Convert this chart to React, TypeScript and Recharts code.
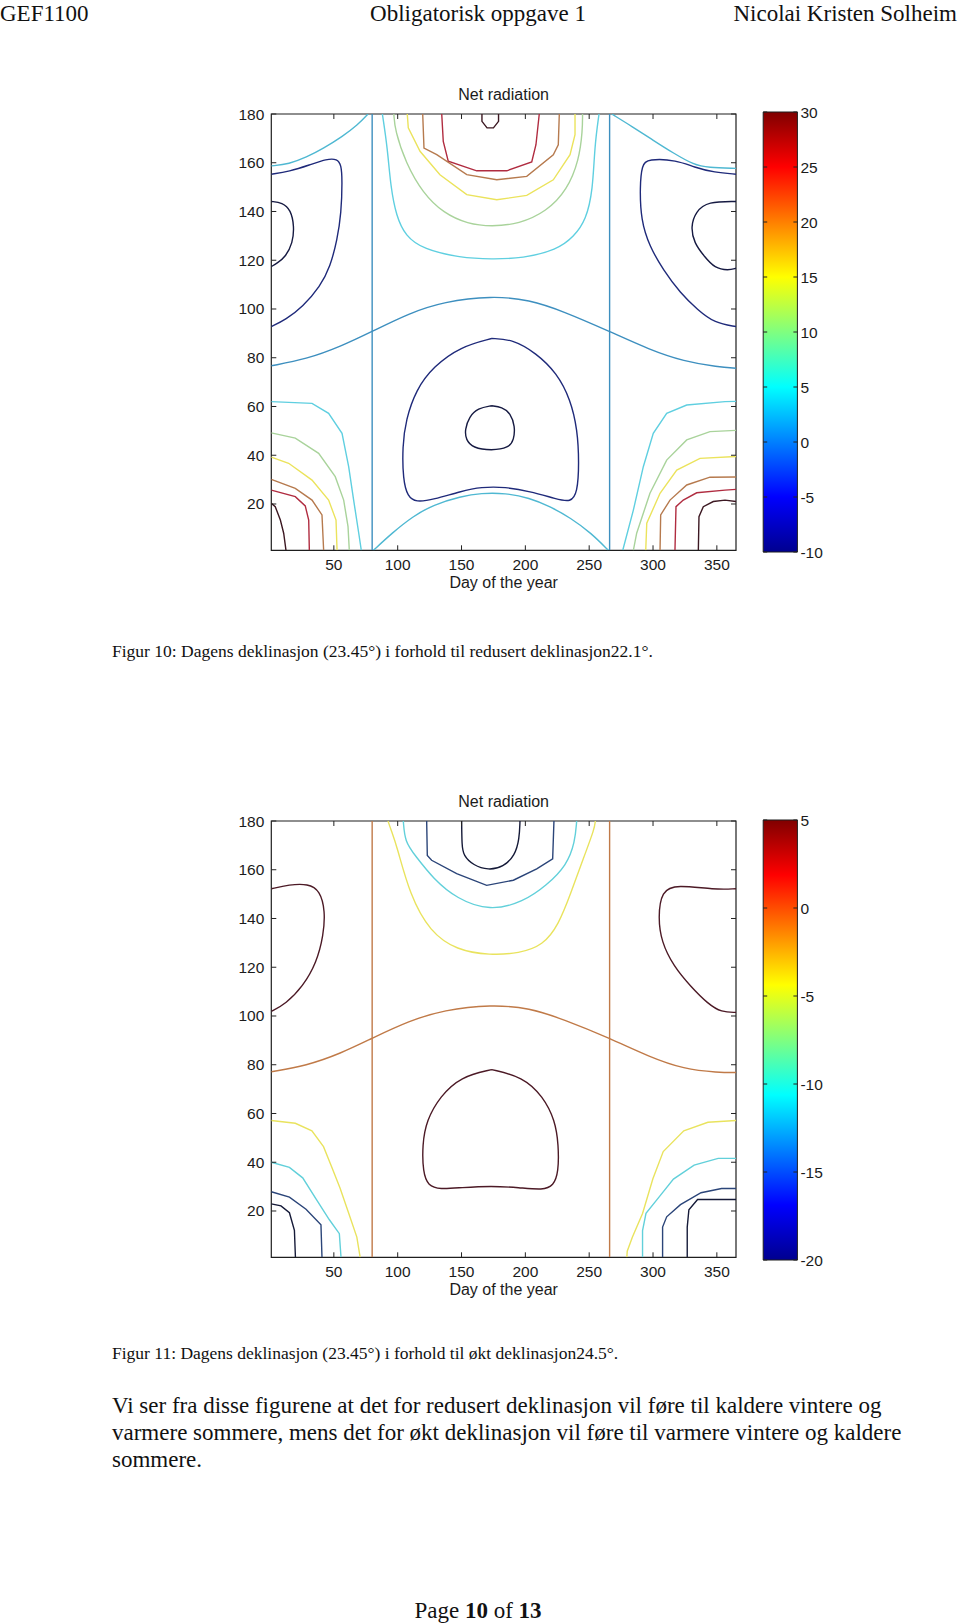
import { LineChart, Line, XAxis, YAxis, ReferenceArea, ComposedChart } from 'recharts';

type Pt = [number, number];
type Series = { level: string; pts: Pt[]; curve?: 'linear' | 'basis' };

// axes
const dayTicks = [50, 100, 150, 200, 250, 300, 350];
const latTicks = [20, 40, 60, 80, 100, 120, 140, 160, 180];
const bar1Ticks = [-10, -5, 0, 5, 10, 15, 20, 25, 30];
const bar2Ticks = [-20, -15, -10, -5, 0, 5];

// ---- Figur 10 (redusert deklinasjon), contours: [day, lat]
const f10EqA: Pt[] = [[80, 1], [80, 180]];
const f10EqB: Pt[] = [[266, 1], [266, 180]];
const f10Wave: Pt[] = [[1, 76.7], [28.4, 79.4], [55.3, 84.6], [80, 90.8], [109, 98.3], [136, 103], [173.6, 105.4], [203.2, 103.8], [230, 99], [266, 90.8], [297.2, 83.3], [324.1, 78.5], [351, 76.2], [365, 75.7]];
const f10RimTL: Pt[] = [[1, 158.7], [15, 159.5], [28.4, 162.2], [41.9, 165.9], [56.6, 170.7], [68.7, 175.5], [76.8, 180]];
const f10RimTR: Pt[] = [[267.7, 180], [283.8, 174.8], [299.9, 169.3], [316.1, 163.9], [332.2, 159.1], [343, 158], [365, 157.7]];
const f10RimB: Pt[] = [[81, 1], [95.6, 8.1], [111.8, 14.9], [127.9, 19.7], [149.4, 23.1], [165.5, 24.5], [184.3, 24.5], [203.2, 22.5], [219.3, 19], [235.4, 14.3], [251.5, 8.1], [265, 1]];

const f10Top30: Pt[] = [[166, 180], [166, 177], [170, 174.3], [175, 174.3], [179, 177], [179, 180]];
const f10Top25: Pt[] = [[134.5, 180], [135.7, 168.8], [139.6, 160.6], [161.9, 156.7], [185.4, 156.7], [205, 160.3], [208.3, 167.4], [210.9, 180]];
const f10Top20: Pt[] = [[119.6, 180], [120.6, 166], [130.6, 163.3], [154.1, 155.1], [177.6, 153], [201.1, 154.4], [221.9, 163.3], [225.8, 167.4], [226.6, 180]];
const f10Top15: Pt[] = [[107.5, 180], [108.3, 174.3], [117.5, 164.7], [133.1, 155.1], [154.1, 146.9], [177.6, 144.8], [201.1, 146.6], [221.9, 153], [235, 163.3], [238.9, 171.5], [238.9, 180]];
const f10Top10: Pt[] = [[97, 180], [97.8, 173.4], [106.4, 159.8], [119.8, 147.5], [136, 139.3], [154.8, 134.9], [173.6, 133.8], [195.1, 134.9], [216.6, 140], [232.7, 148.8], [242.1, 161.1], [244.8, 173.4], [244.8, 180]];
const f10Top5: Pt[] = [[88, 180], [92, 166], [94.5, 150], [99, 138], [106, 130], [120, 124.5], [149, 121], [173.6, 120.4], [197.8, 120.8], [224.7, 124.2], [238.1, 129.7], [247.5, 136.5], [252.9, 148.8], [254.2, 166.6], [257.7, 180]];

const f10Bl30: Pt[] = [[1, 20.3], [4.1, 18.9], [8.1, 13.4], [10.7, 8], [12.5, 1]];
const f10Bl25: Pt[] = [[1, 25.7], [19.8, 23], [27.6, 19.2], [30.3, 13.4], [30.8, 1]];
const f10Bl20: Pt[] = [[1, 30.1], [19.8, 26.4], [32.9, 21.6], [40.7, 15.5], [42, 1]];
const f10Bl15: Pt[] = [[1, 39.2], [14.6, 36.7], [32.9, 29.8], [45.9, 21.6], [51.7, 13.4], [52.5, 1]];
const f10Bl10: Pt[] = [[1, 49.2], [19.8, 47], [38.1, 40.8], [51.1, 31.2], [57.7, 21.6], [61.1, 10.7], [62.1, 1]];
const f10Bl5: Pt[] = [[1, 62], [32.9, 61.3], [45.9, 57.2], [56.4, 49], [61.6, 35.3], [65.5, 21.6], [69.5, 8], [71.5, 1]];

const f10Br5: Pt[] = [[276.3, 1], [284.6, 17.5], [292.4, 35.3], [300.2, 49], [310.7, 57.2], [326.4, 60.6], [356.4, 62], [365, 62.1]];
const f10Br10: Pt[] = [[284.6, 1], [287.2, 8], [297.6, 24.4], [310.7, 38], [326.4, 46.3], [344.6, 49.7], [365, 50.2]];
const f10Br15: Pt[] = [[294.3, 1], [295.1, 12.1], [305.5, 24.4], [318.6, 33.9], [336.8, 38.7], [365, 39.5]];
const f10Br20: Pt[] = [[305.5, 1], [306, 15.5], [313.3, 21.6], [326.4, 27.8], [344.6, 31], [365, 31.1]];
const f10Br25: Pt[] = [[317.2, 1], [318, 18.9], [323.7, 21.6], [334.2, 24.6], [356.4, 25.7], [365, 26]];
const f10Br30: Pt[] = [[335.5, 1], [336, 14.8], [339.4, 18.9], [347.2, 21], [356.4, 21.6], [365, 21]];

const f10LeftM5: Pt[] = [[1, 155.3], [15, 156.4], [31.1, 159.1], [44.5, 161.6], [52.6, 161.6], [55.8, 159.1], [56.6, 153], [55.8, 139.3], [52.6, 128.4], [47.2, 117.4], [39.2, 109.2], [25.7, 101], [12.3, 95.6], [1, 92.8]];
const f10LeftM10: Pt[] = [[1, 144.1], [9.6, 143.7], [16.3, 140.7], [19, 133.8], [17.7, 127], [12.3, 121.5], [5.6, 118.8], [1, 117.4]];
const f10RightM5: Pt[] = [[365, 155.3], [348.3, 156], [332.2, 158.1], [318.8, 161.1], [295.9, 161.6], [291.3, 159.1], [289.7, 150.2], [290.5, 136.5], [297.3, 125.6], [308, 116.1], [321.4, 106.5], [334.9, 99.7], [348.3, 94.2], [365, 92.8]];
const f10RightM10: Pt[] = [[365, 144.1], [343, 144.1], [333.5, 140], [329.5, 133.8], [332.2, 127], [340.3, 121.5], [348.3, 116.7], [359.1, 115.8], [365, 116.7]];
const f10MidM5: Pt[] = [[173.6, 87.9], [149.4, 84.6], [127.9, 76.4], [114.4, 66.9], [106.4, 54.6], [103.7, 43.6], [104.2, 30], [107.7, 23.1], [114.4, 20.7], [127.9, 21.8], [149.4, 25.2], [165.5, 27], [184.3, 27], [203.2, 25.2], [224.7, 22], [235.4, 20.7], [240.8, 24.5], [242.1, 36.8], [240.8, 50.5], [235.4, 62.8], [224.7, 73.7], [208.5, 81.9], [189.7, 87.6], [173.6, 87.9]];
const f10MidM10: Pt[] = [[173.6, 60.3], [162.8, 59.3], [156.1, 55.9], [152.6, 50.5], [153.4, 46.4], [158.8, 43], [173.6, 41.9], [187, 43], [191.1, 46.4], [191.9, 51.8], [188.4, 57.3], [181.7, 59.8], [173.6, 60.3]];

// ---- Figur 11 (økt deklinasjon)
const f11EqA: Pt[] = [[80, 1], [80, 180]];
const f11EqB: Pt[] = [[266, 1], [266, 180]];
const f11Wave: Pt[] = [[1, 77.1], [28.4, 79.6], [55.3, 84.6], [80, 90.9], [109, 98], [136, 102.5], [173.6, 104.7], [203.2, 103.3], [230, 98.6], [266, 90.9], [297.2, 83.2], [324.1, 78.2], [351, 76.8], [365, 76.8]];

const f11TopM20: Pt[] = [[150.1, 180], [150.3, 170], [151.4, 165.9], [159.2, 161.8], [171, 159.8], [182.7, 161.1], [191.9, 165.9], [195.3, 172.7], [195.8, 180]];
const f11TopM15: Pt[] = [[122.7, 180], [123.2, 165.9], [126.6, 163.9], [146.2, 158.4], [169.7, 153.6], [190.6, 155.7], [208.9, 160.4], [221.4, 164.5], [222.4, 180]];
const f11TopM10: Pt[] = [[104.4, 180], [105.7, 171.4], [113.6, 165.9], [127.9, 156.3], [146.2, 148.1], [172.3, 143], [198.4, 146.8], [216.7, 153.6], [232.4, 161.8], [238.9, 171.4], [240.2, 180]];
const f11TopM5: Pt[] = [[92.4, 180], [95, 176], [99.2, 170], [109.6, 149.5], [125.3, 134.5], [146.2, 127], [172.3, 124.9], [195.1, 125.7], [213.9, 129], [226, 137.4], [235.4, 150.1], [246.1, 165.6], [254.2, 176.9], [254.8, 180]];

const f11BlM5: Pt[] = [[1, 57.1], [19.8, 56], [32.8, 52.9], [41.9, 46.4], [48.4, 37.9], [54.9, 29.3], [61.5, 19.3], [68, 9.3], [70.6, 1]];
const f11BlM10: Pt[] = [[1, 40], [15.2, 37.9], [25.6, 33.6], [36, 25], [46.5, 16.4], [54.3, 10.7], [55.6, 1]];
const f11BlM15: Pt[] = [[1, 27.9], [15.2, 25.7], [28.2, 20.7], [39.9, 14.3], [40.7, 1]];
const f11BlM20: Pt[] = [[1, 22.9], [8.6, 22.1], [15.2, 19.3], [19.1, 12.1], [19.9, 1]];

const f11BrM5: Pt[] = [[365, 57.1], [343, 56.4], [324.1, 52.9], [308, 44.4], [299.9, 33.2], [291.8, 19], [283.8, 9.2], [279.8, 3.5], [279.5, 1]];
const f11BrM10: Pt[] = [[365, 41.6], [351, 41.6], [332.2, 38.8], [316, 33.1], [305.3, 26.1], [294.5, 19], [291.8, 12], [291.8, 1]];
const f11BrM15: Pt[] = [[365, 29.2], [353.7, 29.2], [337.6, 27.5], [321.5, 22.6], [310.7, 17.6], [307.5, 13.4], [307.5, 1]];
const f11BrM20: Pt[] = [[365, 24.7], [334.9, 24.7], [328.1, 20.5], [326.8, 13.4], [326.8, 1]];

const f11MidP5: Pt[] = [[173.6, 78], [149.4, 75.1], [133.2, 67], [122.5, 57.1], [119.3, 47.2], [119.8, 35.9], [123.8, 30.3], [133.2, 28.9], [149.4, 29.6], [173.6, 30.3], [195.1, 29.6], [213.9, 28.6], [222, 30.3], [226, 35.9], [226, 47.2], [223.3, 57.1], [213.9, 67], [197.8, 75.1], [173.6, 78]];
const f11LeftP5: Pt[] = [[1, 152.2], [15, 153.9], [29.8, 154.3], [39.2, 151.5], [43.2, 143], [41.9, 133.2], [36.5, 121.9], [25.7, 112.1], [12.3, 105], [1, 101.9]];
const f11RightP5: Pt[] = [[365, 152.2], [348.3, 151.8], [318.7, 153.9], [306.6, 151.5], [304, 140.3], [306.6, 130.4], [316, 120.5], [329.5, 112.1], [343, 105], [353.7, 101.5], [365, 101.5]];

const fig10Series: Series[] = [
  { level: '0', pts: f10EqA }, { level: '0', pts: f10EqB }, { level: '0', pts: f10Wave, curve: 'basis' },
  { level: 'rim', pts: f10RimTL, curve: 'basis' }, { level: 'rim', pts: f10RimTR, curve: 'basis' }, { level: 'rim', pts: f10RimB, curve: 'basis' },
  { level: '30', pts: f10Top30 }, { level: '25', pts: f10Top25 }, { level: '20', pts: f10Top20 },
  { level: '15', pts: f10Top15 }, { level: '10', pts: f10Top10, curve: 'basis' }, { level: '5', pts: f10Top5, curve: 'basis' },
  { level: '30', pts: f10Bl30 }, { level: '25', pts: f10Bl25 }, { level: '20', pts: f10Bl20 },
  { level: '15', pts: f10Bl15 }, { level: '10', pts: f10Bl10 }, { level: '5', pts: f10Bl5 },
  { level: '30', pts: f10Br30 }, { level: '25', pts: f10Br25 }, { level: '20', pts: f10Br20 },
  { level: '15', pts: f10Br15 }, { level: '10', pts: f10Br10 }, { level: '5', pts: f10Br5 },
  { level: '-5', pts: f10LeftM5, curve: 'basis' }, { level: '-10', pts: f10LeftM10, curve: 'basis' },
  { level: '-5', pts: f10RightM5, curve: 'basis' }, { level: '-10', pts: f10RightM10, curve: 'basis' },
  { level: '-5', pts: f10MidM5, curve: 'basis' }, { level: '-10', pts: f10MidM10, curve: 'basis' },
];

const fig11Series: Series[] = [
  { level: '0', pts: f11EqA }, { level: '0', pts: f11EqB }, { level: '0', pts: f11Wave, curve: 'basis' },
  { level: '-20', pts: f11TopM20, curve: 'basis' }, { level: '-15', pts: f11TopM15 }, { level: '-10', pts: f11TopM10, curve: 'basis' }, { level: '-5', pts: f11TopM5, curve: 'basis' },
  { level: '-5', pts: f11BlM5 }, { level: '-10', pts: f11BlM10 }, { level: '-15', pts: f11BlM15 }, { level: '-20', pts: f11BlM20 },
  { level: '-5', pts: f11BrM5 }, { level: '-10', pts: f11BrM10 }, { level: '-15', pts: f11BrM15 }, { level: '-20', pts: f11BrM20 },
  { level: '5', pts: f11MidP5, curve: 'basis' }, { level: '5', pts: f11LeftP5, curve: 'basis' }, { level: '5', pts: f11RightP5, curve: 'basis' },
];

const fig10Colors: Record<string, string> = {
  '30': '#3c1822', '25': '#b02c40', '20': '#b67a4e', '15': '#ebe35c', '10': '#a9d39b',
  '5': '#5fcfe0', '0': '#3d8fbf', rim: '#4fb8d2', '-5': '#1f2a7a', '-10': '#161a42',
};
const fig11Colors: Record<string, string> = {
  '5': '#4c1a26', '0': '#c07a48', '-5': '#e9e35e', '-10': '#62d0da', '-15': '#2b4579', '-20': '#151a38',
};

const jetStops = [
  { o: 0, c: '#00008f' }, { o: 0.125, c: '#0000ff' }, { o: 0.375, c: '#00ffff' },
  { o: 0.625, c: '#ffff00' }, { o: 0.875, c: '#ff0000' }, { o: 1, c: '#800000' },
];

const SERIF = '"Liberation Serif", "Times New Roman", serif';
const SANS = '"Liberation Sans", Arial, sans-serif';

// plot box inside each chart
const PL = 71.3;
const PT = 34;
const PW = 464.7;
const PH = 436.3;

const toRows = (pts: Pt[]) => pts.map(([x, y]) => ({ x, y }));

function DayTick(props: any) {
  const x = props.x;
  const yb = PT + PH;
  return (
    <g>
      <line x1={x} x2={x} y1={yb} y2={yb - 5} stroke="#222" />
      <line x1={x} x2={x} y1={PT} y2={PT + 5} stroke="#222" />
      <text x={x} y={yb + 19.5} textAnchor="middle" fontFamily={SANS} fontSize={15.5} fill="#1b1b1b">
        {props.payload.value}
      </text>
    </g>
  );
}

function LatTick(props: any) {
  const y = props.y;
  return (
    <g>
      <line x1={PL} x2={PL + 5} y1={y} y2={y} stroke="#222" />
      <line x1={PL + PW} x2={PL + PW - 5} y1={y} y2={y} stroke="#222" />
      <text x={PL - 7} y={y + 5.5} textAnchor="end" fontFamily={SANS} fontSize={15.5} fill="#1b1b1b">
        {props.payload.value}
      </text>
    </g>
  );
}

function ContourPlot({ top, series, colors }: { top: number; series: Series[]; colors: Record<string, string> }) {
  return (
    <div style={{ position: 'absolute', left: 200, top, width: 560, height: 520 }}>
      <LineChart width={560} height={520} margin={{ top: PT, right: 24, bottom: 19.7, left: 0 }}>
        {series.map((s, i) => (
          <Line
            key={i}
            data={toRows(s.pts)}
            dataKey="y"
            type={s.curve ?? 'linear'}
            stroke={colors[s.level]}
            strokeWidth={1.4}
            dot={false}
            activeDot={false}
            isAnimationActive={false}
          />
        ))}
        <ReferenceArea x1={1} x2={365} y1={1} y2={180} fill="none" stroke="#1e1e1e" strokeWidth={1.2} ifOverflow="visible" />
        <XAxis type="number" dataKey="x" domain={[1, 365]} ticks={dayTicks} interval={0} allowDataOverflow
          axisLine={false} tickLine={false} tickSize={0} tickMargin={0} height={30} tick={DayTick} />
        <YAxis type="number" dataKey="y" domain={[1, 180]} ticks={latTicks} interval={0} allowDataOverflow
          axisLine={false} tickLine={false} tickSize={0} tickMargin={0} width={PL} tick={LatTick} />
      </LineChart>
    </div>
  );
}

function ColorBar({ top, id, domain, ticks }: { top: number; id: string; domain: [number, number]; ticks: number[] }) {
  const BL = 3.2;
  const BR = 37.4;
  const barTick = (p: any) => (
    <g>
      <line x1={BR} x2={BR - 4} y1={p.y} y2={p.y} stroke="#222" />
      <line x1={BL} x2={BL + 4} y1={p.y} y2={p.y} stroke="#222" />
      <text x={BR + 3} y={p.y + 5.5} fontFamily={SANS} fontSize={15.5} fill="#1b1b1b">{p.payload.value}</text>
    </g>
  );
  return (
    <div style={{ position: 'absolute', left: 760, top, width: 80, height: 470 }}>
      <ComposedChart width={80} height={470} data={[{ x: 0 }, { x: 1 }]} margin={{ top: 12, right: 2.6, bottom: 18, left: BL }}>
        <defs>
          <linearGradient id={id} x1="0" y1="1" x2="0" y2="0">
            {jetStops.map((s) => (
              <stop key={s.o} offset={s.o} stopColor={s.c} />
            ))}
          </linearGradient>
        </defs>
        <XAxis type="number" dataKey="x" domain={[0, 1]} hide />
        <ReferenceArea x1={0} x2={1} y1={domain[0]} y2={domain[1]} fill={`url(#${id})`} fillOpacity={1}
          stroke="#1e1e1e" strokeWidth={1} ifOverflow="visible" />
        <YAxis type="number" orientation="right" domain={domain} ticks={ticks} interval={0} width={40} allowDataOverflow
          axisLine={false} tickLine={false} tickSize={0} tickMargin={0} tick={barTick} />
      </ComposedChart>
    </div>
  );
}

export default function App() {
  const cx = 200 + PL + PW / 2;
  return (
    <div style={{ position: 'absolute', left: 0, top: 0, width: 960, height: 1624, background: '#fff', overflow: 'hidden' }}>
      <svg width={960} height={1624} style={{ position: 'absolute', left: 0, top: 0 }}>
        <g fontFamily={SERIF} fontSize={23} fill="#111">
          <text x={0} y={20.5}>GEF1100</text>
          <text x={478} y={20.5} textAnchor="middle">Obligatorisk oppgave 1</text>
          <text x={957} y={20.5} textAnchor="end">Nicolai Kristen Solheim</text>
          <text x={112} y={657} fontSize={17.5}>Figur 10: Dagens deklinasjon (23.45°) i forhold til redusert deklinasjon22.1°.</text>
          <text x={112} y={1359} fontSize={17.5}>Figur 11: Dagens deklinasjon (23.45°) i forhold til økt deklinasjon24.5°.</text>
          <text x={112} y={1413}>Vi ser fra disse figurene at det for redusert deklinasjon vil føre til kaldere vintere og</text>
          <text x={112} y={1440}>varmere sommere, mens det for økt deklinasjon vil føre til varmere vintere og kaldere</text>
          <text x={112} y={1467}>sommere.</text>
          <text x={478} y={1618} textAnchor="middle">
            Page <tspan fontWeight="bold">10</tspan> of <tspan fontWeight="bold">13</tspan>
          </text>
        </g>
        <g fontFamily={SANS} fontSize={16} fill="#1b1b1b" textAnchor="middle">
          <text x={cx} y={100}>Net radiation</text>
          <text x={cx} y={587.5}>Day of the year</text>
          <text x={cx} y={807}>Net radiation</text>
          <text x={cx} y={1294.5}>Day of the year</text>
        </g>
      </svg>
      <ContourPlot top={80} series={fig10Series} colors={fig10Colors} />
      <ColorBar top={100} id="jet10" domain={[-10, 30]} ticks={bar1Ticks} />
      <ContourPlot top={787} series={fig11Series} colors={fig11Colors} />
      <ColorBar top={808} id="jet11" domain={[-20, 5]} ticks={bar2Ticks} />
    </div>
  );
}
